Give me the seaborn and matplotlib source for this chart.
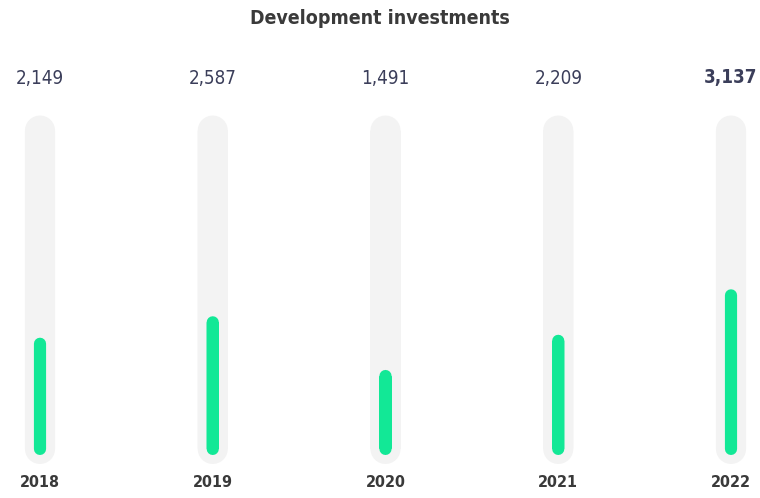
import matplotlib
matplotlib.use("Agg")
import matplotlib.pyplot as plt
import matplotlib.transforms as mtransforms
import seaborn as sns
import pandas as pd

# Data
years = ["2018", "2019", "2020", "2021", "2022"]
investments = [2149, 2587, 1491, 2209, 3137]
value_labels = ["2,149", "2,587", "1,491", "2,209", "3,137"]
track_max = 6500

sns.set_theme(style="white")
plt.rcParams["font.family"] = ["DejaVu Sans"]
plt.rcParams["font.stretch"] = "condensed"

DPI = 100
fig = plt.figure(figsize=(7.6, 4.98), dpi=DPI)
ax = fig.add_axes([0, (498 - 449) / 498, 1, 349 / 498])

df = pd.DataFrame({"year": years, "value": investments,
                   "track": [track_max] * len(years)})

# Light background tracks
sns.barplot(data=df, x="year", y="track", order=years, color="#f3f3f3",
            width=0.001, saturation=1, ax=ax)
n_track = len(ax.patches)
# Green value bars
sns.barplot(data=df, x="year", y="value", order=years, color="#12e896",
            width=0.001, saturation=1, ax=ax)

# Thick round-joined outlines turn the slim bars into pill shapes
px = 72 / DPI
for i, p in enumerate(ax.patches):
    lw = 30 if i < n_track else 12
    p.set_edgecolor(p.get_facecolor())
    p.set_linewidth(lw * px)
    p.set_joinstyle("round")
    p.set_snap(False)
    p.set_clip_on(False)

ax.set_xlim(-40 / 172.75, 720 / 172.75)
ax.set_ylim(0, 349 / 0.049)
ax.set_xlabel("")
ax.set_ylabel("")
ax.set_yticks([])
sns.despine(ax=ax, left=True, bottom=True)
ax.tick_params(axis="x", length=0, pad=19, labelsize=11.5, colors="#3a3a3a")
for t in ax.get_xticklabels():
    t.set_fontweight("bold")
    t.set_fontstretch("condensed")

# Value labels above each track
trans = mtransforms.blended_transform_factory(ax.transData, fig.transFigure)
for i, lab in enumerate(value_labels):
    ax.text(i, 1 - 78 / 498, lab, transform=trans, ha="center", va="center",
            fontsize=13.5, color="#3b3e5a", fontstretch="condensed",
            fontweight="bold" if i == len(value_labels) - 1 else "normal")

fig.text(0.5, 1 - 19 / 498, "Development investments", ha="center",
         va="center", fontsize=14, fontweight="bold", color="#3a3a3a",
         fontstretch="condensed")

fig.savefig("out.png", dpi=DPI, facecolor="white")
